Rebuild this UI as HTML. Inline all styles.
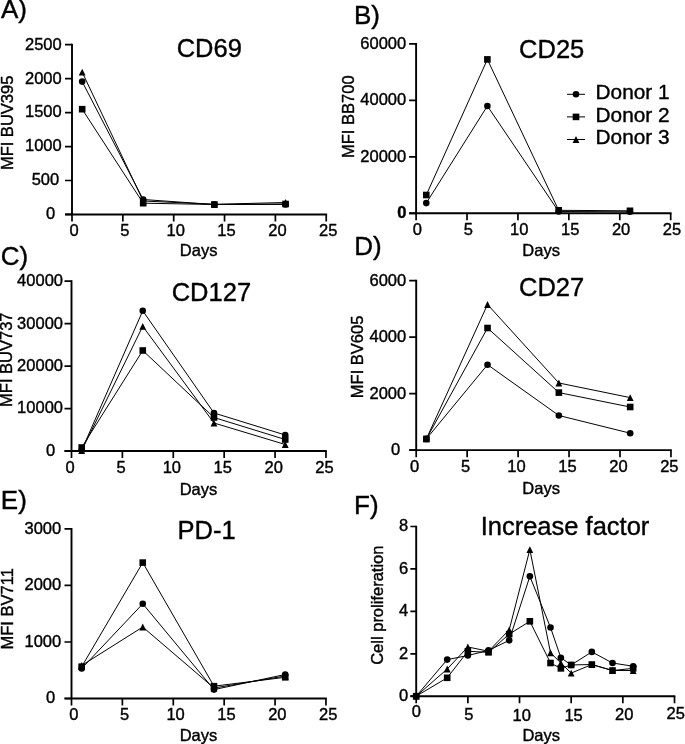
<!DOCTYPE html>
<html><head><meta charset="utf-8"><style>
html,body{margin:0;padding:0;background:#fff;}
svg{display:block;will-change:transform;}
text{font-family:"Liberation Sans", sans-serif;fill:#000;stroke:#000;stroke-width:0.4px;}
</style></head><body>
<svg width="685" height="744" viewBox="0 0 685 744">
<rect width="685" height="744" fill="#fff"/>
<text x="0.9" y="17.6" font-size="26">A)</text>
<text x="209.3" y="56.8" font-size="25.5" text-anchor="middle">CD69</text>
<path d="M72.00 43.79V214.45M65.00 214.45H327.09" fill="none" stroke="#000" stroke-width="1.9"/>
<text x="55.10" y="219.35" font-size="16.5" text-anchor="end">0</text>
<text x="59.20" y="185.39" font-size="16.5" text-anchor="end">500</text>
<text x="61.70" y="151.43" font-size="16.5" text-anchor="end">1000</text>
<text x="61.70" y="117.46" font-size="16.5" text-anchor="end">1500</text>
<text x="61.70" y="83.50" font-size="16.5" text-anchor="end">2000</text>
<text x="61.70" y="49.54" font-size="16.5" text-anchor="end">2500</text>
<text x="74.00" y="236.25" font-size="16.5" text-anchor="middle">0</text>
<text x="124.85" y="236.25" font-size="16.5" text-anchor="middle">5</text>
<text x="175.70" y="236.25" font-size="16.5" text-anchor="middle">10</text>
<text x="226.54" y="236.25" font-size="16.5" text-anchor="middle">15</text>
<text x="277.39" y="236.25" font-size="16.5" text-anchor="middle">20</text>
<text x="328.24" y="236.25" font-size="16.5" text-anchor="middle">25</text>
<path d="M65.00 214.45H72.00M65.00 180.49H72.00M65.00 146.53H72.00M65.00 112.56H72.00M65.00 78.60H72.00M65.00 44.64H72.00M72.00 214.45V221.45M122.85 214.45V221.45M173.70 214.45V221.45M224.54 214.45V221.45M275.39 214.45V221.45M326.24 214.45V221.45" fill="none" stroke="#000" stroke-width="1.7"/>
<text x="198.60" y="256.10" font-size="16.5" text-anchor="middle">Days</text>
<text transform="translate(12.6 122.9) rotate(-90)" font-size="16.5" text-anchor="middle">MFI BUV395</text>
<path d="M82.17 81.60L143.19 199.50L214.37 204.50L285.56 204.40" fill="none" stroke="#000" stroke-width="1.0"/>
<path d="M82.17 109.20L143.19 203.20L214.37 204.50L285.56 204.00" fill="none" stroke="#000" stroke-width="1.0"/>
<path d="M82.17 72.10L143.19 201.00L214.37 204.30L285.56 202.50" fill="none" stroke="#000" stroke-width="1.0"/>
<circle cx="82.17" cy="81.60" r="3.30"/>
<circle cx="143.19" cy="199.50" r="3.30"/>
<circle cx="214.37" cy="204.50" r="3.30"/>
<circle cx="285.56" cy="204.40" r="3.30"/>
<rect x="78.87" y="105.90" width="6.60" height="6.60"/>
<rect x="139.89" y="199.90" width="6.60" height="6.60"/>
<rect x="211.07" y="201.20" width="6.60" height="6.60"/>
<rect x="282.26" y="200.70" width="6.60" height="6.60"/>
<path d="M82.17 68.70L85.57 75.50L78.77 75.50Z"/>
<path d="M143.19 197.60L146.59 204.40L139.79 204.40Z"/>
<path d="M214.37 200.90L217.77 207.70L210.97 207.70Z"/>
<path d="M285.56 199.10L288.96 205.90L282.16 205.90Z"/>
<text x="353.9" y="23.7" font-size="26">B)</text>
<text x="551.7" y="57.5" font-size="25.5" text-anchor="middle">CD25</text>
<path d="M416.10 42.95V213.30M409.10 213.30H671.55" fill="none" stroke="#000" stroke-width="1.9"/>
<text x="406.50" y="218.20" font-size="16.5" text-anchor="end" font-weight="bold">0</text>
<text x="406.20" y="161.70" font-size="16.5" text-anchor="end">20000</text>
<text x="406.20" y="105.20" font-size="16.5" text-anchor="end">40000</text>
<text x="406.20" y="48.70" font-size="16.5" text-anchor="end">60000</text>
<text x="417.40" y="235.10" font-size="16.5" text-anchor="middle">0</text>
<text x="468.32" y="235.10" font-size="16.5" text-anchor="middle">5</text>
<text x="519.24" y="235.10" font-size="16.5" text-anchor="middle">10</text>
<text x="570.16" y="235.10" font-size="16.5" text-anchor="middle">15</text>
<text x="621.08" y="235.10" font-size="16.5" text-anchor="middle">20</text>
<text x="672.00" y="235.10" font-size="16.5" text-anchor="middle">25</text>
<path d="M409.10 213.30H416.10M409.10 156.80H416.10M409.10 100.30H416.10M409.10 43.80H416.10M416.10 213.30V220.30M467.02 213.30V220.30M517.94 213.30V220.30M568.86 213.30V220.30M619.78 213.30V220.30M670.70 213.30V220.30" fill="none" stroke="#000" stroke-width="1.7"/>
<text x="541.10" y="256.20" font-size="16.5" text-anchor="middle">Days</text>
<text transform="translate(354.0 116.7) rotate(-90)" font-size="16.5" text-anchor="middle">MFI BB700</text>
<path d="M426.28 203.10L487.39 106.00L558.68 211.50L629.96 211.80" fill="none" stroke="#000" stroke-width="1.0"/>
<path d="M426.28 195.00L487.39 59.40L558.68 210.30L629.96 210.80" fill="none" stroke="#000" stroke-width="1.0"/>
<circle cx="426.28" cy="203.10" r="3.30"/>
<circle cx="487.39" cy="106.00" r="3.30"/>
<circle cx="558.68" cy="211.50" r="3.30"/>
<circle cx="629.96" cy="211.80" r="3.30"/>
<rect x="422.98" y="191.70" width="6.60" height="6.60"/>
<rect x="484.09" y="56.10" width="6.60" height="6.60"/>
<rect x="555.38" y="207.00" width="6.60" height="6.60"/>
<rect x="626.66" y="207.50" width="6.60" height="6.60"/>
<text x="0.7" y="264.9" font-size="26">C)</text>
<text x="211.4" y="301.0" font-size="25.5" text-anchor="middle">CD127</text>
<path d="M71.50 280.35V451.00M64.50 451.00H326.80" fill="none" stroke="#000" stroke-width="1.9"/>
<text x="55.30" y="455.90" font-size="16.5" text-anchor="end">0</text>
<text x="63.00" y="413.45" font-size="16.5" text-anchor="end">10000</text>
<text x="63.00" y="371.00" font-size="16.5" text-anchor="end">20000</text>
<text x="63.00" y="328.55" font-size="16.5" text-anchor="end">30000</text>
<text x="63.00" y="286.10" font-size="16.5" text-anchor="end">40000</text>
<text x="70.10" y="472.80" font-size="16.5" text-anchor="middle">0</text>
<text x="120.99" y="472.80" font-size="16.5" text-anchor="middle">5</text>
<text x="171.88" y="472.80" font-size="16.5" text-anchor="middle">10</text>
<text x="222.77" y="472.80" font-size="16.5" text-anchor="middle">15</text>
<text x="273.66" y="472.80" font-size="16.5" text-anchor="middle">20</text>
<text x="324.55" y="472.80" font-size="16.5" text-anchor="middle">25</text>
<path d="M64.50 451.00H71.50M64.50 408.55H71.50M64.50 366.10H71.50M64.50 323.65H71.50M64.50 281.20H71.50M71.50 451.00V458.00M122.39 451.00V458.00M173.28 451.00V458.00M224.17 451.00V458.00M275.06 451.00V458.00M325.95 451.00V458.00" fill="none" stroke="#000" stroke-width="1.7"/>
<text x="198.50" y="494.60" font-size="16.5" text-anchor="middle">Days</text>
<text transform="translate(12.3 359.7) rotate(-90)" font-size="16.5" text-anchor="middle">MFI BUV737</text>
<path d="M81.68 450.30L142.75 310.80L213.99 413.00L285.24 435.00" fill="none" stroke="#000" stroke-width="1.0"/>
<path d="M81.68 450.50L142.75 326.30L213.99 423.00L285.24 444.50" fill="none" stroke="#000" stroke-width="1.0"/>
<path d="M81.68 447.50L142.75 350.50L213.99 417.50L285.24 439.50" fill="none" stroke="#000" stroke-width="1.0"/>
<circle cx="81.68" cy="450.30" r="3.30"/>
<circle cx="142.75" cy="310.80" r="3.30"/>
<circle cx="213.99" cy="413.00" r="3.30"/>
<circle cx="285.24" cy="435.00" r="3.30"/>
<path d="M81.68 447.10L85.08 453.90L78.28 453.90Z"/>
<path d="M142.75 322.90L146.15 329.70L139.35 329.70Z"/>
<path d="M213.99 419.60L217.39 426.40L210.59 426.40Z"/>
<path d="M285.24 441.10L288.64 447.90L281.84 447.90Z"/>
<rect x="78.38" y="444.20" width="6.60" height="6.60"/>
<rect x="139.45" y="347.20" width="6.60" height="6.60"/>
<rect x="210.69" y="414.20" width="6.60" height="6.60"/>
<rect x="281.94" y="436.20" width="6.60" height="6.60"/>
<text x="354.2" y="255.4" font-size="26">D)</text>
<text x="551.6" y="295.9" font-size="25.5" text-anchor="middle">CD27</text>
<path d="M416.20 279.85V450.15M409.20 450.15H671.80" fill="none" stroke="#000" stroke-width="1.9"/>
<text x="400.10" y="455.05" font-size="16.5" text-anchor="end">0</text>
<text x="406.20" y="398.57" font-size="16.5" text-anchor="end">2000</text>
<text x="406.20" y="342.08" font-size="16.5" text-anchor="end">4000</text>
<text x="406.20" y="285.60" font-size="16.5" text-anchor="end">6000</text>
<text x="414.60" y="471.95" font-size="16.5" text-anchor="middle">0</text>
<text x="465.55" y="471.95" font-size="16.5" text-anchor="middle">5</text>
<text x="516.50" y="471.95" font-size="16.5" text-anchor="middle">10</text>
<text x="567.45" y="471.95" font-size="16.5" text-anchor="middle">15</text>
<text x="618.40" y="471.95" font-size="16.5" text-anchor="middle">20</text>
<text x="669.35" y="471.95" font-size="16.5" text-anchor="middle">25</text>
<path d="M409.20 450.15H416.20M409.20 393.67H416.20M409.20 337.18H416.20M409.20 280.70H416.20M416.20 450.15V457.15M467.15 450.15V457.15M518.10 450.15V457.15M569.05 450.15V457.15M620.00 450.15V457.15M670.95 450.15V457.15" fill="none" stroke="#000" stroke-width="1.7"/>
<text x="541.10" y="494.40" font-size="16.5" text-anchor="middle">Days</text>
<text transform="translate(363.0 356.9) rotate(-90)" font-size="16.5" text-anchor="middle">MFI BV605</text>
<path d="M426.39 438.90L487.53 364.70L558.86 415.50L630.19 433.20" fill="none" stroke="#000" stroke-width="1.0"/>
<path d="M426.39 438.90L487.53 304.50L558.86 383.00L630.19 397.60" fill="none" stroke="#000" stroke-width="1.0"/>
<path d="M426.39 438.90L487.53 328.00L558.86 392.60L630.19 407.00" fill="none" stroke="#000" stroke-width="1.0"/>
<circle cx="426.39" cy="438.90" r="3.30"/>
<circle cx="487.53" cy="364.70" r="3.30"/>
<circle cx="558.86" cy="415.50" r="3.30"/>
<circle cx="630.19" cy="433.20" r="3.30"/>
<path d="M426.39 435.50L429.79 442.30L422.99 442.30Z"/>
<path d="M487.53 301.10L490.93 307.90L484.13 307.90Z"/>
<path d="M558.86 379.60L562.26 386.40L555.46 386.40Z"/>
<path d="M630.19 394.20L633.59 401.00L626.79 401.00Z"/>
<rect x="423.09" y="435.60" width="6.60" height="6.60"/>
<rect x="484.23" y="324.70" width="6.60" height="6.60"/>
<rect x="555.56" y="389.30" width="6.60" height="6.60"/>
<rect x="626.89" y="403.70" width="6.60" height="6.60"/>
<text x="0.8" y="509.1" font-size="26">E)</text>
<text x="206.6" y="539.0" font-size="25.5" text-anchor="middle">PD-1</text>
<path d="M71.50 528.10V698.50M64.50 698.50H326.80" fill="none" stroke="#000" stroke-width="1.9"/>
<text x="55.30" y="703.40" font-size="16.5" text-anchor="end">0</text>
<text x="61.20" y="646.88" font-size="16.5" text-anchor="end">1000</text>
<text x="61.20" y="590.37" font-size="16.5" text-anchor="end">2000</text>
<text x="61.20" y="533.85" font-size="16.5" text-anchor="end">3000</text>
<text x="73.80" y="720.30" font-size="16.5" text-anchor="middle">0</text>
<text x="124.69" y="720.30" font-size="16.5" text-anchor="middle">5</text>
<text x="175.58" y="720.30" font-size="16.5" text-anchor="middle">10</text>
<text x="226.47" y="720.30" font-size="16.5" text-anchor="middle">15</text>
<text x="277.36" y="720.30" font-size="16.5" text-anchor="middle">20</text>
<text x="328.25" y="720.30" font-size="16.5" text-anchor="middle">25</text>
<path d="M64.50 698.50H71.50M64.50 641.98H71.50M64.50 585.47H71.50M64.50 528.95H71.50M71.50 698.50V705.50M122.39 698.50V705.50M173.28 698.50V705.50M224.17 698.50V705.50M275.06 698.50V705.50M325.95 698.50V705.50" fill="none" stroke="#000" stroke-width="1.7"/>
<text x="198.50" y="741.00" font-size="16.5" text-anchor="middle">Days</text>
<text transform="translate(13.0 608.8) rotate(-90)" font-size="16.5" text-anchor="middle">MFI BV711</text>
<path d="M81.68 668.50L142.75 603.80L213.99 689.60L285.24 674.50" fill="none" stroke="#000" stroke-width="1.0"/>
<path d="M81.68 665.50L142.75 627.00L213.99 688.00L285.24 676.00" fill="none" stroke="#000" stroke-width="1.0"/>
<path d="M81.68 666.70L142.75 562.60L213.99 686.20L285.24 677.30" fill="none" stroke="#000" stroke-width="1.0"/>
<circle cx="81.68" cy="668.50" r="3.30"/>
<circle cx="142.75" cy="603.80" r="3.30"/>
<circle cx="213.99" cy="689.60" r="3.30"/>
<circle cx="285.24" cy="674.50" r="3.30"/>
<path d="M81.68 662.10L85.08 668.90L78.28 668.90Z"/>
<path d="M142.75 623.60L146.15 630.40L139.35 630.40Z"/>
<path d="M213.99 684.60L217.39 691.40L210.59 691.40Z"/>
<path d="M285.24 672.60L288.64 679.40L281.84 679.40Z"/>
<rect x="78.38" y="663.40" width="6.60" height="6.60"/>
<rect x="139.45" y="559.30" width="6.60" height="6.60"/>
<rect x="210.69" y="682.90" width="6.60" height="6.60"/>
<rect x="281.94" y="674.00" width="6.60" height="6.60"/>
<text x="354.0" y="513.9" font-size="26">F)</text>
<text x="565.0" y="534.9" font-size="25.5" text-anchor="middle">Increase factor</text>
<path d="M416.20 525.65V696.20M410.40 696.20H675.35" fill="none" stroke="#000" stroke-width="1.9"/>
<text x="408.20" y="701.10" font-size="16.5" text-anchor="end">0</text>
<text x="408.20" y="658.68" font-size="16.5" text-anchor="end">2</text>
<text x="408.20" y="616.25" font-size="16.5" text-anchor="end">4</text>
<text x="408.20" y="573.82" font-size="16.5" text-anchor="end">6</text>
<text x="408.20" y="531.40" font-size="16.5" text-anchor="end">8</text>
<text x="416.40" y="717.00" font-size="16.5" text-anchor="middle">0</text>
<text x="468.90" y="720.30" font-size="16.5" text-anchor="middle">5</text>
<text x="521.70" y="721.40" font-size="16.5" text-anchor="middle">10</text>
<text x="573.60" y="720.60" font-size="16.5" text-anchor="middle">15</text>
<text x="624.20" y="719.80" font-size="16.5" text-anchor="middle">20</text>
<text x="675.70" y="718.60" font-size="16.5" text-anchor="middle">25</text>
<path d="M410.40 696.20H416.20M410.40 653.78H416.20M410.40 611.35H416.20M410.40 568.92H416.20M410.40 526.50H416.20M416.20 696.20V703.20M467.86 696.20V703.20M519.52 696.20V703.20M571.18 696.20V703.20M622.84 696.20V703.20M674.50 696.20V703.20" fill="none" stroke="#000" stroke-width="1.7"/>
<text x="541.20" y="741.30" font-size="16.5" text-anchor="middle">Days</text>
<text transform="translate(383.0 605.2) rotate(-90)" font-size="16.5" text-anchor="middle">Cell proliferation</text>
<path d="M416.20 696.20L447.20 659.61L467.86 655.54L488.52 650.40L509.19 640.35L529.85 576.36L550.52 627.51L560.85 657.68L571.18 664.96L591.84 651.90L612.51 663.03L633.17 666.24" fill="none" stroke="#000" stroke-width="1.0"/>
<path d="M416.20 696.20L447.20 669.02L467.86 646.98L488.52 651.26L509.19 629.86L529.85 549.61L550.52 652.76L560.85 663.03L571.18 673.09L591.84 664.53L612.51 670.52L633.17 670.52" fill="none" stroke="#000" stroke-width="1.0"/>
<path d="M416.20 696.20L447.20 677.80L467.86 651.26L488.52 652.33L509.19 634.14L529.85 621.30L550.52 663.03L560.85 668.38L571.18 664.96L591.84 664.53L612.51 670.52L633.17 668.38" fill="none" stroke="#000" stroke-width="1.0"/>
<circle cx="416.20" cy="696.20" r="3.30"/>
<circle cx="447.20" cy="659.61" r="3.30"/>
<circle cx="467.86" cy="655.54" r="3.30"/>
<circle cx="488.52" cy="650.40" r="3.30"/>
<circle cx="509.19" cy="640.35" r="3.30"/>
<circle cx="529.85" cy="576.36" r="3.30"/>
<circle cx="550.52" cy="627.51" r="3.30"/>
<circle cx="560.85" cy="657.68" r="3.30"/>
<circle cx="571.18" cy="664.96" r="3.30"/>
<circle cx="591.84" cy="651.90" r="3.30"/>
<circle cx="612.51" cy="663.03" r="3.30"/>
<circle cx="633.17" cy="666.24" r="3.30"/>
<path d="M416.20 692.80L419.60 699.60L412.80 699.60Z"/>
<path d="M447.20 665.62L450.60 672.42L443.80 672.42Z"/>
<path d="M467.86 643.58L471.26 650.38L464.46 650.38Z"/>
<path d="M488.52 647.86L491.92 654.66L485.12 654.66Z"/>
<path d="M509.19 626.46L512.59 633.26L505.79 633.26Z"/>
<path d="M529.85 546.21L533.25 553.01L526.45 553.01Z"/>
<path d="M550.52 649.36L553.92 656.16L547.12 656.16Z"/>
<path d="M560.85 659.63L564.25 666.43L557.45 666.43Z"/>
<path d="M571.18 669.69L574.58 676.49L567.78 676.49Z"/>
<path d="M591.84 661.13L595.24 667.93L588.44 667.93Z"/>
<path d="M612.51 667.12L615.91 673.92L609.11 673.92Z"/>
<path d="M633.17 667.12L636.57 673.92L629.77 673.92Z"/>
<rect x="412.90" y="692.90" width="6.60" height="6.60"/>
<rect x="443.90" y="674.50" width="6.60" height="6.60"/>
<rect x="464.56" y="647.96" width="6.60" height="6.60"/>
<rect x="485.22" y="649.03" width="6.60" height="6.60"/>
<rect x="505.89" y="630.84" width="6.60" height="6.60"/>
<rect x="526.55" y="618.00" width="6.60" height="6.60"/>
<rect x="547.22" y="659.73" width="6.60" height="6.60"/>
<rect x="557.55" y="665.08" width="6.60" height="6.60"/>
<rect x="567.88" y="661.66" width="6.60" height="6.60"/>
<rect x="588.54" y="661.23" width="6.60" height="6.60"/>
<rect x="609.21" y="667.22" width="6.60" height="6.60"/>
<rect x="629.87" y="665.08" width="6.60" height="6.60"/>
<path d="M567 94.30H585" stroke="#000" stroke-width="1"/>
<circle cx="576.00" cy="94.30" r="3.30"/>
<text x="595.6" y="98.90" font-size="20.8">Donor 1</text>
<path d="M567 116.90H585" stroke="#000" stroke-width="1"/>
<rect x="572.70" y="113.60" width="6.60" height="6.60"/>
<text x="595.6" y="121.50" font-size="20.8">Donor 2</text>
<path d="M567 139.50H585" stroke="#000" stroke-width="1"/>
<path d="M576.00 136.10L579.40 142.90L572.60 142.90Z"/>
<text x="595.6" y="144.10" font-size="20.8">Donor 3</text>
</svg>
</body></html>
